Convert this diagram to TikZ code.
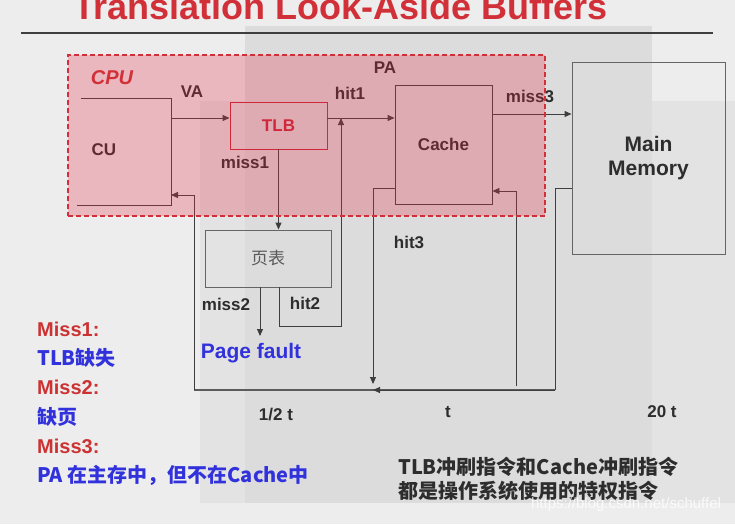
\documentclass[tikz,border=0pt]{standalone}
\usepackage{fontspec}
\setmainfont{Liberation Sans}
\newfontfamily\cjk{Noto Sans CJK SC}
\usetikzlibrary{arrows.meta}

\definecolor{bgLight}{RGB}{237,237,237}
\definecolor{bgMid}{RGB}{227,227,227}
\definecolor{bgDark}{RGB}{220,220,220}
\definecolor{wireGray}{RGB}{62,62,62}
\definecolor{textGray}{RGB}{45,45,45}
\definecolor{ptGray}{RGB}{90,90,90}
\definecolor{titleRed}{RGB}{210,48,56}
\definecolor{tlbRed}{RGB}{200,40,56}
\definecolor{cpuRed}{RGB}{232,40,65}
\definecolor{missRed}{RGB}{204,50,50}
\definecolor{noteBlue}{RGB}{50,50,220}

\tikzset{
  wire/.style={draw=wireGray, line width=0.9pt},
  bus/.style={draw=wireGray!85, line width=1.5pt},
  unit/.style={draw=wireGray, line width=0.9pt, inner sep=0pt},
  lbl/.style={inner sep=0pt, text=textGray, font=\bfseries\fontsize{17}{17}\selectfont},
  redline/.style={inner sep=0pt, anchor=west, text=missRed, font=\bfseries\fontsize{20}{20}\selectfont},
  blueline/.style={inner sep=0pt, anchor=west, text=noteBlue, font=\cjk\bfseries\fontsize{20}{20}\selectfont}
}

\begin{document}
\begin{tikzpicture}[x=1pt, y=-1pt, >={Triangle[length=7pt,width=6pt]}]
                        \useasboundingbox (0,0) rectangle (735,524);
                        % Slide background:
                        \fill[bgLight] (0,0) rectangle (735,524);
                        \fill[bgMid] (200,101) rectangle (735,503);
                        \fill[bgDark] (245,26) rectangle (652,503);
                        \node[inner sep=0pt, anchor=base west, text=titleRed, font=\bfseries\fontsize{36}{36}\selectfont] (title) at (73,20) {Translation Look-Aside Buffers};
                        \draw[wireGray, line width=1.5pt] (21,33) -- (713,33);
                        % Units:
                        \coordinate (cuTL) at (81,98);
                        \coordinate (cuTR) at (171,98);
                        \coordinate (cuBR) at (171,205);
                        \coordinate (cuBL) at (77,205);
                        \draw[wire] (cuTL) -- (cuTR) -- (cuBR) -- (cuBL);
                        \node[lbl] (cu) at (104,150) {CU};
                        \node[unit, draw=tlbRed, minimum width=97pt, minimum height=47pt, text=tlbRed, font=\bfseries\fontsize{17}{17}\selectfont] (tlb) at (278.5,125.5) {TLB};
                        \node[unit, minimum width=97pt, minimum height=119pt, text=textGray, font=\bfseries\fontsize{17}{17}\selectfont] (cache) at (443.5,144.5) {Cache};
                        \node[unit, draw=wireGray!80, minimum width=153pt, minimum height=192pt, align=center, text=textGray, font=\bfseries\fontsize{21}{24}\selectfont] (mem) at (648.5,158) {Main\\Memory};
                        \node[unit, draw=wireGray!80, minimum width=126pt, minimum height=57pt, text=ptGray, font=\cjk\fontsize{17}{17}\selectfont] (pt) at (268,258.5) {页表};
                        % Paths and wires:
                        \coordinate (va) at (171,118);
                        \coordinate (hitOne) at (341,118);
                        \coordinate (hitTwo) at (279,326);
                        \coordinate (pf) at (260,336);
                        \coordinate (hitThree) at (373,188);
                        \coordinate (busMid) at (373,390);
                        \coordinate (busR) at (555,390);
                        \coordinate (busL) at (194,390);
                        \coordinate (cuIn) at (171,195);
                        \coordinate (memOut) at (555,188);
                        \coordinate (fillTop) at (516,191);
                        \coordinate (fillBot) at (516,386);
                        \coordinate (missThree) at (530,114);
                        \draw[wire, ->] (va) -- (va -| tlb.west);
                        \draw[wire, ->] (tlb.east |- hitOne) -- (hitOne -| cache.west);
                        \draw[wire, ->] (tlb.south) -- (tlb.south |- pt.north);
                        \draw[wire, ->] (pt.south -| hitTwo) -- (hitTwo) -- (hitTwo -| hitOne) -- (hitOne);
                        \draw[wire, ->] (pt.south -| pf) -- (pf);
                        \draw[wire, ->] (cache.west |- hitThree) -- (hitThree) -- ([yshift=6pt]busMid);
                        \draw[wire] (mem.west |- memOut) -- (memOut) -- (busR);
                        \draw[bus] (busR) -- (busL);
                        \draw[wire, ->] (busR) -- (busMid);
                        \draw[wire, ->] (busL) |- (cuIn);
                        \draw[wire, ->] (fillBot) -- (fillTop) -- (fillTop -| cache.east);
                        \draw[wire, ->] (cache.east |- missThree) -- (missThree -| mem.west);
                        % Labels:
                        \node[lbl] (vaLbl) at (192,92) {VA};
                        \node[lbl] (hitOneLbl) at (350,93) {hit1};
                        \node[lbl] (paLbl) at (385,68) {PA};
                        \node[lbl] (missThreeLbl) at (530,96) {miss3};
                        \node[lbl] (missOneLbl) at (245,162) {miss1};
                        \node[lbl] (hitThreeLbl) at (409,242) {hit3};
                        \node[lbl] (missTwoLbl) at (226,304) {miss2};
                        \node[lbl] (hitTwoLbl) at (305,303) {hit2};
                        \node[inner sep=0pt, text=noteBlue, font=\bfseries\fontsize{21}{21}\selectfont] (pagefault) at (251,353) {Page fault};
                        \node[lbl] (tHalf) at (276,415) {1/2 t};
                        \node[lbl] (tOne) at (448,412) {t};
                        \node[lbl] (tTwenty) at (662,412) {20 t};
                        % CPU overlay:
                        \node[minimum width=477pt, minimum height=161pt, inner sep=0pt, fill=cpuRed, fill opacity=0.27, draw=titleRed, line width=1.1pt, dash pattern=on 5pt off 3pt] (cpu) at (306.5,135.5) {};
                        \node[inner sep=0pt, text=titleRed, font=\bfseries\itshape\fontsize{20}{20}\selectfont] (cpuLbl) at (112,78) {CPU};
                        % Notes:
                        \node[redline] (mOne) at (37,329) {Miss1:};
                        \node[blueline] (mOneTxt) at (37,358) {TLB缺失};
                        \node[redline] (mTwo) at (37,387) {Miss2:};
                        \node[blueline] (mTwoTxt) at (37,417) {缺页};
                        \node[redline] (mThree) at (37,446) {Miss3:};
                        \node[blueline] (mThreeTxt) at (37,475) {PA 在主存中，但不在Cache中};
                        \node[inner sep=0pt, anchor=north west, align=left, text=textGray, font=\cjk\bfseries\fontsize{20}{24}\selectfont] (note) at (398,457) {TLB冲刷指令和Cache冲刷指令\\都是操作系统使用的特权指令};
                        \node[inner sep=0pt, text=white, opacity=0.8, font=\fontsize{15}{15}\selectfont] (mark) at (626,505) {https://blog.csdn.net/schuffel};
                    \end{tikzpicture}
\end{document}
